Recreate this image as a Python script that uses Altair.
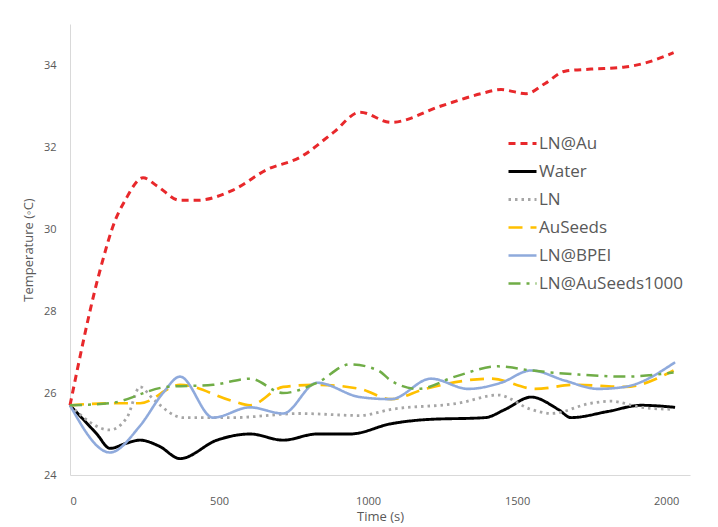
import altair as alt
import pandas as pd

series_names = ["LN@Au", "Water", "LN", "AuSeeds", "LN@BPEI", "LN@AuSeeds1000"]

t_lnau = [0, 101, 151, 185, 245, 292, 369, 426, 547, 661, 772, 883, 973, 1077, 1245, 1379, 1446, 1530, 1594, 1661, 1748, 1862, 1930, 2025]
v_lnau = [25.7, 29.0, 30.2, 30.7, 31.25, 31.05, 30.7, 30.7, 30.95, 31.45, 31.75, 32.35, 32.85, 32.6, 33.0, 33.3, 33.4, 33.3, 33.55, 33.85, 33.9, 33.95, 34.05, 34.3]

t_water = [0, 90, 134, 191, 235, 300, 369, 493, 604, 715, 829, 940, 1077, 1191, 1393, 1460, 1547, 1638, 1681, 1805, 1916, 2030]
v_water = [25.7, 25.0, 24.65, 24.78, 24.85, 24.7, 24.4, 24.85, 25.0, 24.85, 25.0, 25.0, 25.25, 25.35, 25.4, 25.6, 25.9, 25.6, 25.4, 25.55, 25.7, 25.65]

t_ln = [0, 134, 191, 235, 279, 379, 547, 772, 973, 1077, 1302, 1436, 1547, 1614, 1748, 1815, 1916, 2025]
v_ln = [25.7, 25.1, 25.4, 26.15, 25.85, 25.4, 25.4, 25.5, 25.45, 25.6, 25.75, 25.95, 25.6, 25.5, 25.75, 25.8, 25.65, 25.6]

t_auseeds = [0, 134, 235, 369, 547, 604, 715, 829, 973, 1077, 1191, 1413, 1560, 1695, 1862, 2025]
v_auseeds = [25.7, 25.75, 25.75, 26.2, 25.8, 25.7, 26.15, 26.2, 26.1, 25.85, 26.1, 26.35, 26.1, 26.2, 26.15, 26.55]

t_bpei = [0, 134, 235, 312, 369, 480, 604, 715, 829, 973, 1077, 1211, 1336, 1446, 1547, 1661, 1772, 1862, 2030]
v_bpei = [25.7, 24.55, 25.2, 26.0, 26.4, 25.4, 25.65, 25.5, 26.25, 25.9, 25.85, 26.35, 26.1, 26.25, 26.55, 26.3, 26.1, 26.15, 26.75]

t_seeds1000 = [0, 134, 326, 480, 604, 715, 829, 940, 1034, 1077, 1168, 1292, 1436, 1547, 1705, 1862, 2025]
v_seeds1000 = [25.7, 25.75, 26.15, 26.2, 26.35, 26.0, 26.25, 26.7, 26.55, 26.3, 26.1, 26.4, 26.65, 26.55, 26.45, 26.4, 26.5]

x_ticks = [0, 500, 1000, 1500, 2000]
y_ticks = [24, 26, 28, 30, 32, 34]

colors = ["#E8282B", "#000000", "#A6A6A6", "#FFC000", "#8FAADC", "#70AD47"]
dashes = [[7, 5], [1, 0], [2.5, 4], [14, 8], [1, 0], [12, 6, 3, 6]]
widths = [3, 2.5, 2.5, 3, 2.2, 3]

rows = []
for name, ts, vs in zip(series_names,
                        [t_lnau, t_water, t_ln, t_auseeds, t_bpei, t_seeds1000],
                        [v_lnau, v_water, v_ln, v_auseeds, v_bpei, v_seeds1000]):
    for t, v in zip(ts, vs):
        rows.append({"series": name, "time": t, "temp": v})
df = pd.DataFrame(rows)

legend = alt.Legend(
    title=None, orient="none", legendX=437, legendY=104,
    symbolType="stroke", symbolSize=784, symbolStrokeWidth=3,
    labelFontSize=17, labelColor="#595959", labelFont="Open Sans",
    labelOffset=1, rowPadding=4, padding=0,
)

chart = alt.Chart(df).mark_line(interpolate="monotone").encode(
    x=alt.X("time:Q", title="Time (s)",
            scale=alt.Scale(domain=[0, 2080], nice=False),
            axis=alt.Axis(values=x_ticks, format="d", grid=False, ticks=False, labelPadding=20,
                          titlePadding=4, domainColor="#D9D9D9")),
    y=alt.Y("temp:Q", title="Temperature (◦C)",
            scale=alt.Scale(domain=[24, 35], nice=False),
            axis=alt.Axis(values=y_ticks, grid=False, ticks=False, labelPadding=14,
                          titlePadding=8, domainColor="#D9D9D9")),
    color=alt.Color("series:N", sort=series_names,
                    scale=alt.Scale(domain=series_names, range=colors), legend=legend),
    strokeDash=alt.StrokeDash("series:N", sort=series_names,
                              scale=alt.Scale(domain=series_names, range=dashes), legend=legend),
    strokeWidth=alt.StrokeWidth("series:N", scale=alt.Scale(domain=series_names, range=widths),
                                legend=None),
).properties(
    width=620, height=451,
    autosize=alt.AutoSizeParams(type="none"),
    padding={"left": 62, "top": 16, "right": 10, "bottom": 48},
).configure_view(stroke=None).configure_axis(
    labelFont="Open Sans", titleFont="Open Sans", labelColor="#595959", titleColor="#595959",
    labelFontSize=11, titleFontSize=13, titleFontWeight="normal",
)

chart.save("out.html", embed_options={"renderer": "svg", "actions": False})
